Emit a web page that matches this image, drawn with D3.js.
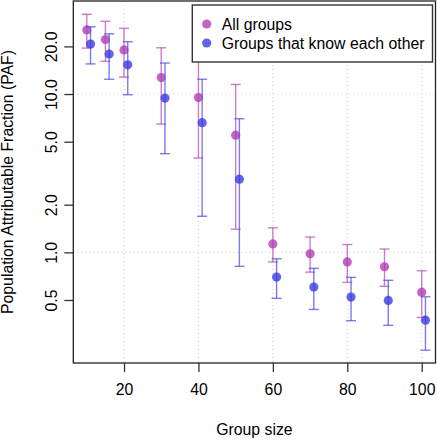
<!DOCTYPE html>
<html><head><meta charset="utf-8">
<script src="https://cdn.jsdelivr.net/npm/d3@7"></script>
<style>html,body{margin:0;padding:0;background:#fff}svg{display:block}</style>
</head><body>
<script>
const groupSizes = [10, 15, 20, 30, 40, 50, 60, 70, 80, 90, 100];
const allMean  = [25.4, 22.1, 19.0, 12.7, 9.5, 5.5, 1.13, 0.98, 0.87, 0.81, 0.56];
const allLow   = [19.5, 16.1, 12.8, 6.46, 3.94, 1.40, 0.87, 0.75, 0.646, 0.61, 0.388];
const allHigh  = [31.9, 28.8, 26.0, 19.6, 17.5, 11.5, 1.43, 1.25, 1.12, 1.05, 0.765];
const knowMean = [20.7, 17.9, 15.3, 9.43, 6.59, 2.9, 0.698, 0.604, 0.522, 0.497, 0.373];
const knowLow  = [15.5, 12.4, 9.9, 4.2, 1.69, 0.816, 0.512, 0.436, 0.37, 0.346, 0.241];
const knowHigh = [26.6, 24.0, 21.4, 15.7, 12.4, 6.98, 0.911, 0.792, 0.695, 0.666, 0.524];
const xTicks = [20, 40, 60, 80, 100];
const yTicks = [0.5, 1, 2, 5, 10, 20];
const gridY = [1, 10];
const seriesNames = ["All groups", "Groups that know each other"];

const W = 437, H = 440;
const L = 73.3, R = 435.5, T = 1, B = 363;
const font = "'Liberation Sans', Arial, Helvetica, sans-serif";
const fs = 15.8;

const svg = d3.select("body").append("svg").attr("width", W).attr("height", H);
const x = d3.scaleLinear().domain([6.37, 103.7]).range([L, R]);
const y = d3.scaleLog().domain([0.2, 38.7]).range([B, T]);

// grid
const grid = svg.append("g").attr("stroke", "#d0d0d0").attr("stroke-width", 1).attr("stroke-dasharray", "1,3");
grid.selectAll("line.v").data(xTicks).join("line")
  .attr("x1", d => x(d)).attr("x2", d => x(d)).attr("y1", T).attr("y2", B);
grid.selectAll("line.h").data(gridY).join("line")
  .attr("x1", L).attr("x2", R).attr("y1", d => y(d)).attr("y2", d => y(d));

// axes
const xAxis = d3.axisBottom(x).tickValues(xTicks).tickSize(9).tickPadding(12).tickFormat(d3.format("d"));
const gx = svg.append("g").attr("transform", `translate(0,${B})`).call(xAxis);
gx.select(".domain").remove();
gx.selectAll("line").attr("stroke", "#333").attr("stroke-width", 1.3);
gx.selectAll("text").attr("font-family", font).attr("font-size", fs).attr("fill", "#000").attr("dy", "0.71em");

const yAxis = d3.axisLeft(y).tickValues(yTicks).tickSize(9).tickFormat(d3.format(".1f"));
const gy = svg.append("g").attr("transform", `translate(${L},0)`).call(yAxis);
gy.select(".domain").remove();
gy.selectAll("line").attr("stroke", "#333").attr("stroke-width", 1.3);
gy.selectAll("text").attr("font-family", font).attr("font-size", fs).attr("fill", "#000")
  .attr("x", null).attr("dy", null).attr("text-anchor", "middle")
  .attr("transform", "translate(-22.5,0) rotate(-90)").attr("y", 0).attr("dy", "0.36em");

// box
svg.append("rect").attr("x", L).attr("y", T).attr("width", R - L).attr("height", B - T)
  .attr("fill", "none").attr("stroke", "#222").attr("stroke-width", 1.3);

// series
const series = [
  {mean: allMean, low: allLow, high: allHigh, off: 0, fill: "rgba(178,58,178,0.78)", line: "rgba(190,80,190,0.75)"},
  {mean: knowMean, low: knowLow, high: knowHigh, off: 1, fill: "rgba(55,55,225,0.78)", line: "rgba(80,80,230,0.75)"}
];
const cap = 5;
series.forEach(s => {
  const g = svg.append("g");
  const data = groupSizes.map((gs, i) => ({x: gs + s.off, m: s.mean[i], lo: s.low[i], hi: s.high[i]}));
  g.selectAll("line.bar").data(data).join("line")
    .attr("x1", d => x(d.x)).attr("x2", d => x(d.x)).attr("y1", d => y(d.lo)).attr("y2", d => y(d.hi))
    .attr("stroke", s.line).attr("stroke-width", 1.4);
  g.selectAll("line.capH").data(data).join("line")
    .attr("x1", d => x(d.x) - cap).attr("x2", d => x(d.x) + cap).attr("y1", d => y(d.hi)).attr("y2", d => y(d.hi))
    .attr("stroke", s.line).attr("stroke-width", 1.4);
  g.selectAll("line.capL").data(data).join("line")
    .attr("x1", d => x(d.x) - cap).attr("x2", d => x(d.x) + cap).attr("y1", d => y(d.lo)).attr("y2", d => y(d.lo))
    .attr("stroke", s.line).attr("stroke-width", 1.4);
  g.selectAll("circle").data(data).join("circle")
    .attr("cx", d => x(d.x)).attr("cy", d => y(d.m)).attr("r", 4.6).attr("fill", s.fill);
});

// legend
const lg = svg.append("g");
lg.append("rect").attr("x", 192.3).attr("y", 5).attr("width", 240.2).attr("height", 57)
  .attr("fill", "#fff").attr("stroke", "#333").attr("stroke-width", 1.4);
seriesNames.forEach((n, i) => {
  const cy = 24 + i * 19;
  lg.append("circle").attr("cx", 206.7).attr("cy", cy).attr("r", 4.6).attr("fill", series[i].fill);
  lg.append("text").attr("x", 221.7).attr("y", cy).attr("dy", "0.36em")
    .attr("font-family", font).attr("font-size", fs).attr("fill", "#000").text(n);
});

// titles
svg.append("text").attr("x", (L + R) / 2).attr("y", 435).attr("text-anchor", "middle")
  .attr("font-family", font).attr("font-size", fs).text("Group size");
svg.append("text").attr("transform", `translate(12.8,${(T + B) / 2}) rotate(-90)`).attr("text-anchor", "middle")
  .attr("font-family", font).attr("font-size", fs).text("Population Attributable Fraction (PAF)");
</script>
</body></html>
